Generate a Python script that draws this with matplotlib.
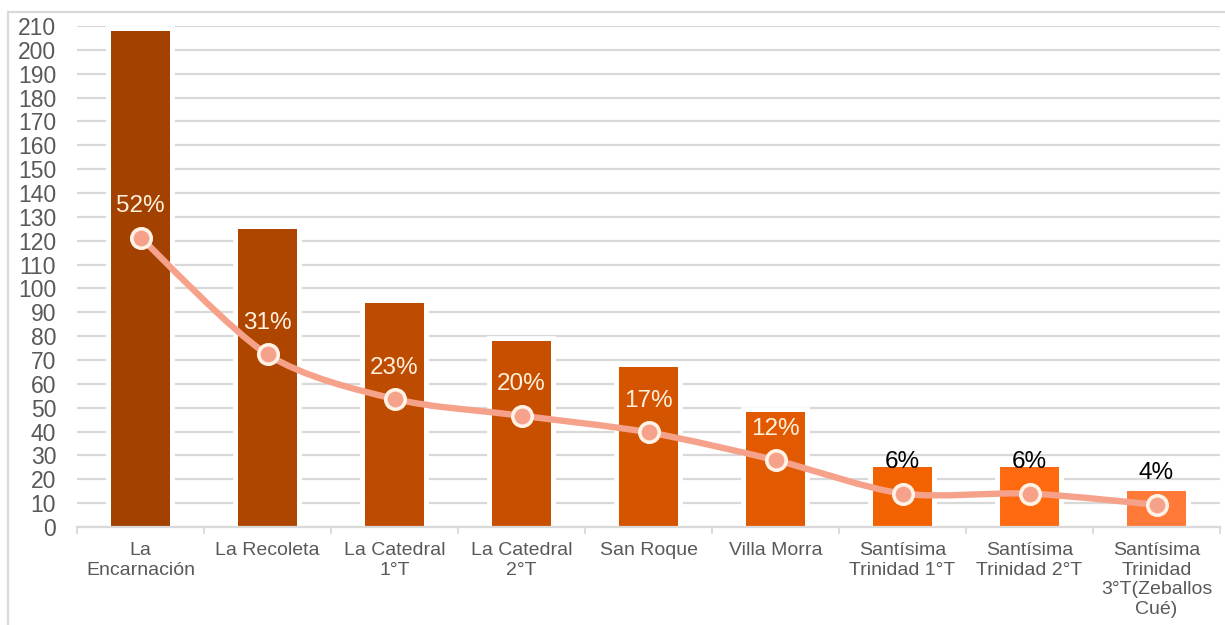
import numpy as np
import matplotlib
matplotlib.use("Agg")
import matplotlib.pyplot as plt
import matplotlib.patheffects as pe
from matplotlib.path import Path
from matplotlib.patches import PathPatch, Rectangle

plt.rcParams['font.family'] = ['Liberation Sans', 'DejaVu Sans']

# data
categories = ["La\nEncarnación", "La Recoleta", "La Catedral\n1°T",
              "La Catedral\n2°T", "San Roque", "Villa Morra",
              "Santísima\nTrinidad 1°T", "Santísima\nTrinidad 2°T",
              "Santísima\nTrinidad\n3°T(Zeballos\nCué)"]
counts = [208, 125, 94, 78, 67, 48, 25, 25, 15]
shares = [0.52, 0.31, 0.23, 0.20, 0.17, 0.12, 0.06, 0.06, 0.04]
share_labels = ["52%", "31%", "23%", "20%", "17%", "12%", "6%", "6%", "4%"]

bar_colors = ["#A34100", "#AF4600", "#BD4B00", "#C84F00", "#D45400",
              "#E15900", "#F26200", "#FF6A10", "#FF7A38"]
label_colors = ["#FFF0DC"] * 6 + ["#000000"] * 3
LINE_COLOR = "#F6A28B"
GRID_COLOR = "#D9D9D9"
TEXT_COLOR = "#595959"

W, H = 1225, 625
fig = plt.figure(figsize=(W / 100, H / 100), dpi=100)
ax = fig.add_axes([77 / W, 1 - 527 / H, (1220 - 77) / W, (527 - 26) / H])

x = np.arange(len(categories))

# bars with a white halo so the gridlines stop short of them
bars = ax.bar(x, counts, width=0.47, color=bar_colors, zorder=2)
for b in bars:
    b.set_path_effects([pe.withStroke(linewidth=7, foreground="white")])

ax.set_xlim(-0.5, len(categories) - 0.5)
ax.set_ylim(0, 210)
ax.set_yticks(np.arange(0, 211, 10))
ax.tick_params(axis="y", length=0, pad=15, labelsize=16.5, labelcolor=TEXT_COLOR)
ax.yaxis.grid(True, color=GRID_COLOR, linewidth=1.6)
ax.set_axisbelow(True)

# boundary tick marks and centred labels
ax.set_xticks(np.arange(-0.5, len(categories), 1.0))
ax.set_xticklabels([])
ax.tick_params(axis="x", which="major", length=5, width=1.3, color=GRID_COLOR)
ax.set_xticks(x, minor=True)
ax.set_xticklabels(categories, minor=True, fontsize=14, color=TEXT_COLOR,
                   linespacing=1.2)
ax.tick_params(axis="x", which="minor", length=0, pad=11)

for side in ["top", "right", "left"]:
    ax.spines[side].set_visible(False)
ax.spines["bottom"].set_color(GRID_COLOR)
ax.spines["bottom"].set_linewidth(1.6)

# share line on a hidden secondary axis (0 - 90%)
ax2 = ax.twinx()
ax2.set_ylim(0, 0.9)
ax2.axis("off")

# smoothed line like the spreadsheet one (bezier through the points)
pts = np.column_stack([x, shares]).astype(float)
verts = [pts[0]]
codes = [Path.MOVETO]
n = len(pts)
for i in range(n - 1):
    p0 = pts[i - 1] if i > 0 else pts[i]
    p1, p2 = pts[i], pts[i + 1]
    p3 = pts[i + 2] if i + 2 < n else pts[i + 1]
    c1 = p1 + (p2 - p0) / 7
    c2 = p2 - (p3 - p1) / 7
    verts += [c1, c2, p2]
    codes += [Path.CURVE4] * 3
ax2.add_patch(PathPatch(Path(verts, codes), facecolor="none",
                        edgecolor=LINE_COLOR, linewidth=4.6,
                        capstyle="round", zorder=3))
ax2.plot(x, shares, linestyle="none", marker="o", markersize=14,
         markerfacecolor=LINE_COLOR, markeredgecolor="#FFF2E6",
         markeredgewidth=2.6, zorder=4)

for xi, s, lab, c in zip(x, shares, share_labels, label_colors):
    ax2.annotate(lab, (xi, s), xytext=(0, 22.5), textcoords="offset points",
                 ha="center", va="center", fontsize=17.5, color=c, zorder=5)

# light frame around the chart
fig.patches.append(Rectangle((8 / W, -0.05), 1.2, 1 - 12 / H + 0.05,
                             transform=fig.transFigure, fill=False,
                             edgecolor=GRID_COLOR, linewidth=1.6))

fig.savefig("out.png", dpi=100)
